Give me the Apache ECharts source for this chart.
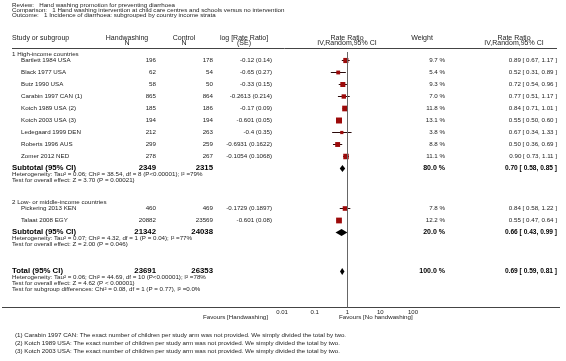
<!DOCTYPE html>
<html><head><meta charset="utf-8">
<script src="https://cdn.jsdelivr.net/npm/echarts@6/dist/echarts.min.js"></script>
<style>html,body{margin:0;padding:0;background:#fff}#c{width:566px;height:361px}</style>
</head><body><div id="c"></div>
<script>
// ---------------- DATA ----------------
const titleLines = [
  "Review:   Hand washing promotion for preventing diarrhoea",
  "Comparison:   1 Hand washing intervention at child care centres and schools versus no intervention",
  "Outcome:   1 Incidence of diarrhoea: subgrouped by country income strata"
];
const groupNames = ["1 High-income countries", "2 Low- or middle-income countries"];

const g1Studies = ["Bartlett 1984 USA","Black 1977 USA","Butz 1990 USA","Carabin 1997 CAN (1)","Kotch 1989 USA (2)","Kotch 2003 USA (3)","Ledegaard 1999 DEN","Roberts 1996 AUS","Zomer 2012 NED"];
const g1HwN    = [196, 62, 58, 865, 185, 194, 212, 299, 278];
const g1CtrlN  = [178, 54, 50, 864, 186, 194, 263, 259, 267];
const g1LogRR  = ["-0.12 (0.14)","-0.65 (0.27)","-0.33 (0.15)","-0.2613 (0.214)","-0.17 (0.09)","-0.601 (0.05)","-0.4 (0.35)","-0.6931 (0.1622)","-0.1054 (0.1068)"];
const g1Weight = [9.7, 5.4, 9.3, 7.0, 11.8, 13.1, 3.8, 8.8, 11.1];
const g1RR     = [0.89, 0.52, 0.72, 0.77, 0.84, 0.55, 0.67, 0.50, 0.90];
const g1Lo     = [0.67, 0.31, 0.54, 0.51, 0.71, 0.50, 0.34, 0.36, 0.73];
const g1Hi     = [1.17, 0.89, 0.96, 1.17, 1.01, 0.60, 1.33, 0.69, 1.11];

const g2Studies = ["Pickering 2013 KEN","Talaat 2008 EGY"];
const g2HwN    = [460, 20882];
const g2CtrlN  = [469, 23569];
const g2LogRR  = ["-0.1729 (0.1897)","-0.601 (0.08)"];
const g2Weight = [7.8, 12.2];
const g2RR     = [0.84, 0.55];
const g2Lo     = [0.58, 0.47];
const g2Hi     = [1.22, 0.64];

const subHwN    = [2349, 21342];
const subCtrlN  = [2315, 24038];
const subWeight = [80.0, 20.0];
const subRR     = [0.70, 0.66];
const subLo     = [0.58, 0.43];
const subHi     = [0.85, 0.99];
const subHetero = [
  "Heterogeneity: Tau\u00b2 = 0.06; Chi\u00b2 = 38.54, df = 8 (P<0.00001); I\u00b2 =79%",
  "Heterogeneity: Tau\u00b2 = 0.07; Chi\u00b2 = 4.32, df = 1 (P = 0.04); I\u00b2 =77%"
];
const subEffect = [
  "Test for overall effect: Z = 3.70 (P = 0.00021)",
  "Test for overall effect: Z = 2.00 (P = 0.046)"
];

const totalHwN = 23691, totalCtrlN = 26353, totalWeight = 100.0;
const totalRR = 0.69, totalLo = 0.59, totalHi = 0.81;
const totalNotes = [
  "Heterogeneity: Tau\u00b2 = 0.06; Chi\u00b2 = 44.69, df = 10 (P<0.00001); I\u00b2 =78%",
  "Test for overall effect: Z = 4.62 (P < 0.00001)",
  "Test for subgroup differences: Chi\u00b2 = 0.08, df = 1 (P = 0.77), I\u00b2 =0.0%"
];
const axisTicks = [0.01, 0.1, 1, 10, 100];
const favours = ["Favours [Handwashing]", "Favours [No handwashing]"];
const footnotes = [
  "(1) Carabin 1997 CAN: The exact number of children per study arm was not provided. We simply divided the total by two.",
  "(2) Kotch 1989 USA: The exact number of children per study arm was not provided. We simply divided the total by two.",
  "(3) Kotch 2003 USA: The exact number of children per study arm was not provided. We simply divided the total by two."
];

// ---------------- LAYOUT ----------------
const FONT = "'Liberation Sans', Arial, sans-serif";
const TXT = '#222';
const FS = 6.2;
const L = {
  left: 12, indent: 21,
  hwR: 156, hwC: 127, ctR: 213, ctC: 184, lgR: 272, lgC: 244, plotC: 347,
  wR: 445, wC: 422, rrR: 557, rrC: 514,
  titleY: [5, 10, 15], head1: 38, head2: 43.5, headLine: 48.5,
  g1Head: 54, g1Start: 60, step: 12,
  sub1: 168, g2Head: 202, g2Start: 208, sub2: 232,
  total: 271, axisY: 307.5, tickLab: 313, fav: 317, foot: [335, 343, 351],
  gridL: 282, gridW: 131, vTop: 52
};

const fmt2 = v => v.toFixed(2);
const rrText = (r, lo, hi) => fmt2(r) + ' [ ' + fmt2(lo) + ', ' + fmt2(hi) + ' ]';
const wText = w => w.toFixed(1) + ' %';

const els = [];
function T(x, y, text, size, align, bold, color) {
  els.push({type: 'text', x: x, y: y, silent: true, style: {
    text: String(text), font: (bold ? 'bold ' : '') + size + 'px ' + FONT,
    fill: color || (bold ? '#000' : TXT), textAlign: align || 'left', align: align || 'left',
    textVerticalAlign: 'middle', verticalAlign: 'middle'}});
}
function HL(x1, x2, y) {
  els.push({type: 'line', silent: true, shape: {x1: x1, y1: y, x2: x2, y2: y}, style: {stroke: '#444', lineWidth: 1}});
}

titleLines.forEach((t, i) => T(L.left, L.titleY[i], t, FS));
T(L.left, L.head1, 'Study or subgroup', 7);
T(L.hwC, L.head1, 'Handwashing', 7, 'center'); T(L.hwC, L.head2, 'N', 7, 'center');
T(L.ctC, L.head1, 'Control', 7, 'center'); T(L.ctC, L.head2, 'N', 7, 'center');
T(L.lgC, L.head1, 'log [Rate Ratio]', 7, 'center'); T(L.lgC, L.head2, '(SE)', 7, 'center');
T(L.plotC, L.head1, 'Rate Ratio', 7, 'center'); T(L.plotC, L.head2, 'IV,Random,95% CI', 7, 'center');
T(L.wC, L.head1, 'Weight', 7, 'center');
T(L.rrC, L.head1, 'Rate Ratio', 7, 'center'); T(L.rrC, L.head2, 'IV,Random,95% CI', 7, 'center');
HL(L.left, L.rrR, L.headLine);

const studyPts = [], diamonds = [];
function groupRows(gi, headY, startY, names, hw, ct, lg, w, rr, lo, hi, subY) {
  T(L.left, headY, groupNames[gi], FS);
  names.forEach((n, i) => {
    const y = startY + i * L.step;
    T(L.indent, y, n, FS);
    T(L.hwR, y, hw[i], FS, 'right');
    T(L.ctR, y, ct[i], FS, 'right');
    T(L.lgR, y, lg[i], FS, 'right');
    T(L.wR, y, wText(w[i]), FS, 'right');
    T(L.rrR, y, rrText(rr[i], lo[i], hi[i]), FS, 'right');
    studyPts.push([rr[i], y, lo[i], hi[i], w[i]]);
  });
  T(L.left, subY, 'Subtotal (95% CI)', 7.8, 'left', true);
  T(L.hwR, subY, subHwN[gi], 7.8, 'right', true);
  T(L.ctR, subY, subCtrlN[gi], 7.8, 'right', true);
  T(L.wR, subY, wText(subWeight[gi]), 7, 'right', true);
  T(L.rrR, subY, rrText(subRR[gi], subLo[gi], subHi[gi]), 6.6, 'right', true);
  T(L.left, subY + 6, subHetero[gi], FS);
  T(L.left, subY + 12, subEffect[gi], FS);
  diamonds.push([subRR[gi], subY, subLo[gi], subHi[gi]]);
}
groupRows(0, L.g1Head, L.g1Start, g1Studies, g1HwN, g1CtrlN, g1LogRR, g1Weight, g1RR, g1Lo, g1Hi, L.sub1);
groupRows(1, L.g2Head, L.g2Start, g2Studies, g2HwN, g2CtrlN, g2LogRR, g2Weight, g2RR, g2Lo, g2Hi, L.sub2);

T(L.left, L.total, 'Total (95% CI)', 7.8, 'left', true);
T(L.hwR, L.total, totalHwN, 7.8, 'right', true);
T(L.ctR, L.total, totalCtrlN, 7.8, 'right', true);
T(L.wR, L.total, wText(totalWeight), 7, 'right', true);
T(L.rrR, L.total, rrText(totalRR, totalLo, totalHi), 6.6, 'right', true);
totalNotes.forEach((t, i) => T(L.left, L.total + 6 * (i + 1), t, FS));
diamonds.push([totalRR, L.total, totalLo, totalHi]);

HL(2, 560, L.axisY);
T(268, L.fav, favours[0], FS, 'right');
T(339, L.fav, favours[1], FS, 'left');
footnotes.forEach((t, i) => T(15, L.foot[i], t, FS));

// ---------------- CHART ----------------
const chart = echarts.init(document.getElementById('c'), null, {renderer: 'canvas'});
const px = v => Math.round(v) + 0.5;
chart.setOption({
  animation: false,
  backgroundColor: '#fff',
  grid: {left: L.gridL, width: L.gridW, top: 0, height: L.axisY},
  xAxis: {
    type: 'log', logBase: 10, min: axisTicks[0], max: axisTicks[axisTicks.length - 1],
    axisLine: {show: false},
    axisTick: {show: true, inside: true, length: 3, lineStyle: {color: '#444', width: 1}},
    axisLabel: {fontSize: 6, fontFamily: FONT, color: TXT, margin: 2,
      formatter: v => String(parseFloat(Number(v).toPrecision(3)))},
    splitLine: {show: false}
  },
  yAxis: {type: 'value', min: 0, max: L.axisY, inverse: true, show: false},
  series: [
    {
      type: 'custom', data: studyPts, silent: true,
      renderItem: (params, api) => {
        const y = api.value(1);
        const c = api.coord([api.value(0), y]);
        const l = api.coord([api.value(2), y]);
        const h = api.coord([api.value(3), y]);
        const s = 1.65 * Math.sqrt(api.value(4));
        const yy = px(c[1]);
        return {type: 'group', children: [
          {type: 'line', shape: {x1: l[0], y1: yy, x2: h[0], y2: yy}, style: {stroke: '#2a0a0a', lineWidth: 1}},
          {type: 'line', shape: {x1: c[0], y1: yy - 1.5, x2: c[0], y2: yy + 1.5}, style: {stroke: '#222', lineWidth: 0.8}},
          {type: 'rect', shape: {x: c[0] - s / 2, y: yy - s / 2, width: s, height: s}, style: {fill: '#9c0a0a'}}
        ]};
      },
      markLine: {
        silent: true, symbol: 'none', label: {show: false},
        lineStyle: {color: '#666', width: 1, type: 'solid'},
        data: [[{coord: [axisTicks[2], L.vTop]}, {coord: [axisTicks[2], L.axisY]}]]
      }
    },
    {
      type: 'custom', data: diamonds, silent: true,
      renderItem: (params, api) => {
        const y = api.value(1);
        const c = api.coord([api.value(0), y]);
        const l = api.coord([api.value(2), y]);
        const h = api.coord([api.value(3), y]);
        const yy = px(c[1]);
        return {type: 'polygon', shape: {points: [[l[0], yy], [c[0], yy - 3.4], [h[0], yy], [c[0], yy + 3.4]]},
          style: {fill: '#000'}};
      }
    }
  ],
  graphic: {elements: els}
});
</script>
</body></html>
